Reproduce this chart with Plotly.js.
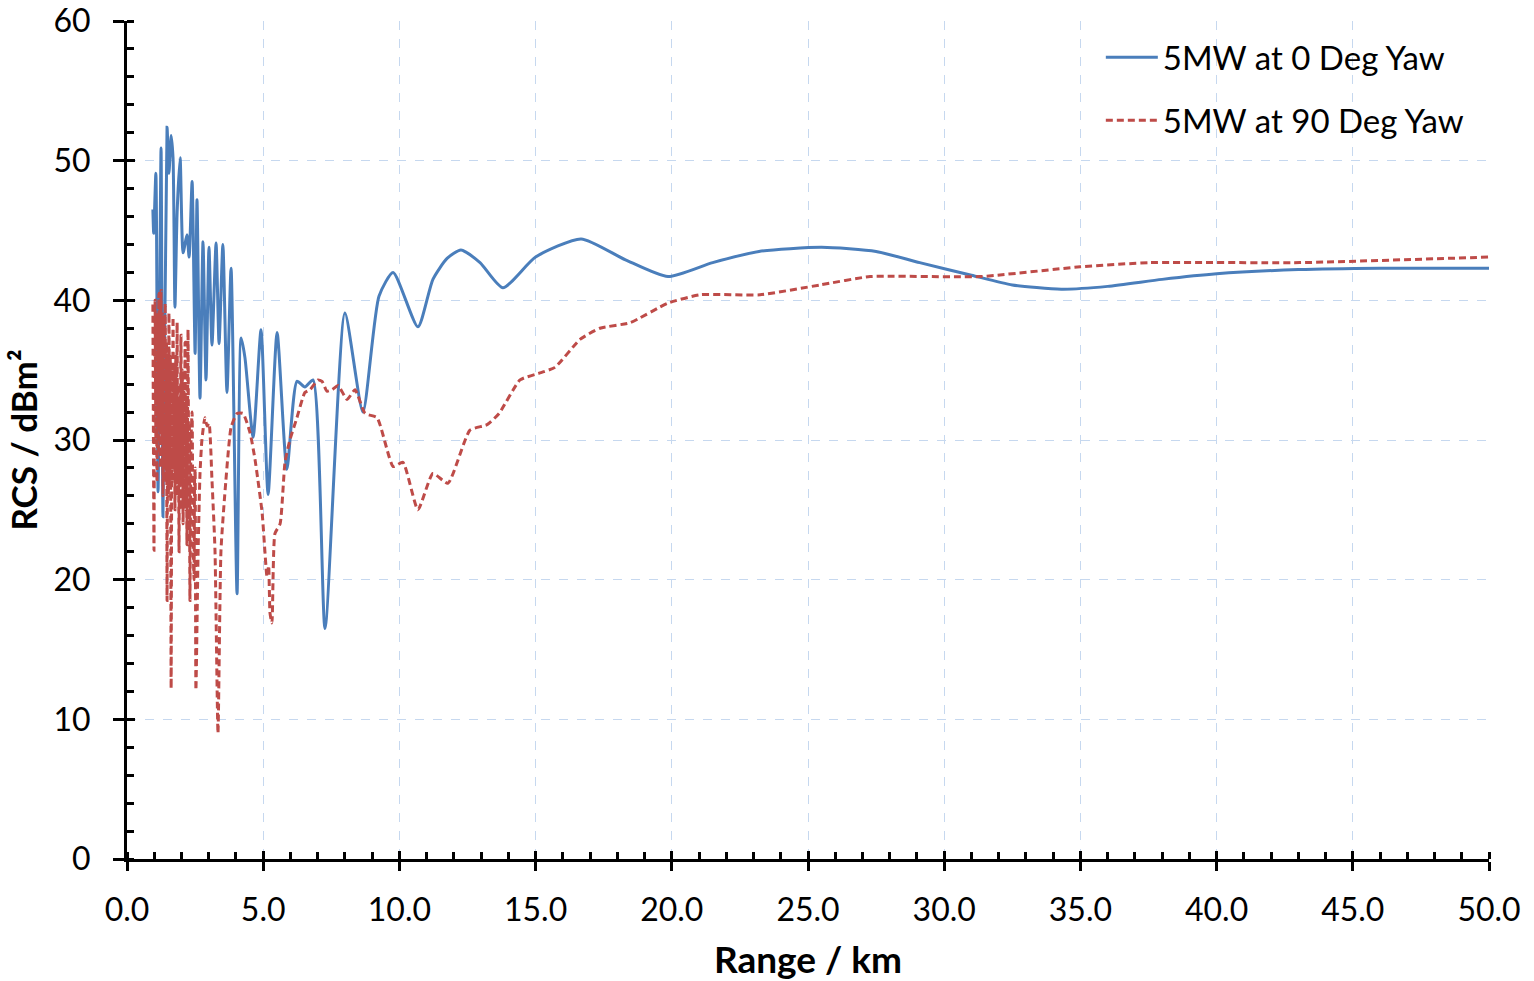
<!DOCTYPE html>
<html>
<head>
<meta charset="utf-8">
<script src="https://cdn.plot.ly/plotly-3.0.1.min.js"></script>
<style>html,body{margin:0;padding:0;background:#fff;}#chart{width:1534px;height:981px;}</style>
</head>
<body>
<div id="chart"></div>
<script>
// Range (km) and RCS (dBm²) for 5MW turbine at 0 deg yaw
const rangeYaw0 = [0.95,0.98,1.06,1.14,1.25,1.32,1.47,1.54,1.62,1.69,1.76,1.84,1.95,2.06,2.20,2.28,2.39,2.50,2.57,2.68,2.79,2.90,3.01,3.12,3.27,3.38,3.52,3.67,3.82,4.04,4.19,4.33,4.63,4.92,5.18,5.51,5.87,6.24,6.53,6.83,7.27,8.00,8.66,9.25,9.77,10.68,11.23,11.75,12.26,12.96,13.80,15.00,16.67,18.30,19.86,21.50,23.20,25.50,27.50,29.10,31.00,32.50,34.30,36.00,38.00,40.00,43.00,46.00,50.00];
const rcsYaw0   = [46.5,44.8,49.1,26.3,50.9,24.5,52.4,49.1,51.8,50.2,39.5,46.3,50.2,43.4,44.7,43.1,48.5,36.2,47.2,33.0,44.2,34.3,43.8,36.8,44.1,36.9,44.0,33.4,42.3,19.0,37.3,35.9,30.2,37.9,26.1,37.7,27.9,34.2,33.8,34.3,16.5,39.1,32.0,40.3,42.0,38.1,41.5,43.0,43.6,42.7,40.9,43.1,44.4,42.9,41.7,42.7,43.5,43.8,43.5,42.7,41.8,41.1,40.8,41.0,41.5,41.9,42.2,42.3,42.3];

// Range (km) and RCS (dBm²) for 5MW turbine at 90 deg yaw
const rangeYaw90 = [0.95,0.97,0.99,1.01,1.03,1.06,1.08,1.10,1.13,1.15,1.17,1.19,1.21,1.23,1.25,1.28,1.30,1.32,1.35,1.37,1.40,1.43,1.45,1.47,1.50,1.52,1.54,1.57,1.59,1.62,1.65,1.67,1.69,1.72,1.74,1.76,1.79,1.81,1.84,1.86,1.88,1.91,1.93,1.95,1.98,2.01,2.03,2.06,2.09,2.11,2.13,2.16,2.18,2.20,2.24,2.27,2.29,2.31,2.35,2.39,2.42,2.46,2.48,2.50,2.53,2.61,2.68,2.75,2.86,2.94,3.01,3.12,3.23,3.34,3.45,3.63,3.82,4.04,4.26,4.52,4.70,4.96,5.14,5.20,5.25,5.32,5.43,5.62,5.80,5.98,6.24,6.53,6.72,7.01,7.16,7.34,7.53,7.75,8.08,8.37,8.74,9.18,9.77,10.13,10.68,11.23,11.78,12.59,13.22,13.66,14.43,15.16,15.71,16.63,17.36,18.47,19.86,21.04,23.24,25.44,27.28,31.31,34.99,37.56,43.06,50.00];
const rcsYaw90   = [39.7,30.0,22.1,35.0,40.0,30.0,38.0,27.0,39.0,29.0,40.5,31.0,39.5,28.0,40.7,30.0,39.0,26.0,38.5,28.0,39.8,27.0,37.0,18.5,36.0,26.0,39.1,27.0,36.0,12.2,35.0,27.0,38.8,28.0,35.0,25.0,36.0,27.0,38.4,26.0,34.0,22.0,33.0,27.0,37.5,25.0,35.0,24.0,34.0,26.0,37.0,25.0,33.0,22.5,37.9,24.0,31.0,18.5,30.0,32.0,23.0,20.0,27.0,28.0,12.1,22.0,27.6,30.0,31.6,31.0,31.2,27.1,22.1,9.0,22.1,27.1,30.9,31.9,31.9,30.5,28.6,24.8,20.2,21.0,17.6,16.9,23.3,24.0,28.4,30.0,31.6,33.4,33.6,34.3,34.2,33.5,33.6,33.9,32.9,33.6,31.9,31.6,28.1,28.4,25.0,27.6,26.9,30.7,31.1,31.9,34.3,34.8,35.2,37.2,38.0,38.4,39.8,40.4,40.4,41.1,41.7,41.7,42.4,42.7,42.7,43.1];

const seriesNames = ['5MW at 0 Deg Yaw', '5MW at 90 Deg Yaw'];
const xTitle = 'Range / km';
const yTitle = 'RCS / dBm²';

const FONT = 'Lato, "Open Sans", sans-serif';
const gridColor = '#c6d8ef';

const traces = [
  {x: rangeYaw0, y: rcsYaw0, name: seriesNames[0], type: 'scatter', mode: 'lines',
   line: {color: '#4a7ebb', width: 3, shape: 'spline', smoothing: 0.6},
   xaxis: 'x', yaxis: 'y', legendgroup: 'a'},
  {x: rangeYaw90, y: rcsYaw90, name: seriesNames[1], type: 'scatter', mode: 'lines',
   line: {color: '#be4b48', width: 3, dash: '7px,4px', shape: 'spline', smoothing: 0.5},
   xaxis: 'x2', yaxis: 'y2', legendgroup: 'b'}
];

const layout = {
  width: 1534, height: 981,
  margin: {l: 127, r: 45, t: 21, b: 122},
  paper_bgcolor: '#ffffff', plot_bgcolor: '#ffffff',
  font: {family: FONT, color: '#000000', size: 32},
  showlegend: true,
  legend: {x: 0.715, y: 0.99, xanchor: 'left', yanchor: 'top', bgcolor: 'rgba(0,0,0,0)',
           font: {family: FONT, size: 33, color: '#000'}, traceorder: 'grouped', tracegroupgap: 17, itemwidth: 52},
  xaxis: {
    range: [0, 50], dtick: 5, tick0: 0, tickformat: '.1f',
    showline: true, linecolor: '#000', linewidth: 3, zeroline: false,
    ticks: 'outside', ticklen: 9, tickwidth: 3, tickcolor: '#000',
    showgrid: true, gridcolor: gridColor, gridwidth: 1, griddash: 'dash',
    minor: {dtick: 1, ticks: 'inside', ticklen: 7, tickwidth: 3, tickcolor: '#000', showgrid: false},
    tickfont: {family: FONT, size: 32, color: '#000'}, ticklabelstandoff: 12,
    title: {text: xTitle, font: {family: FONT, size: 37, color: '#000', weight: 'bold'}, standoff: 22}
  },
  yaxis: {
    range: [0, 60], dtick: 10, tick0: 0,
    showline: true, linecolor: '#000', linewidth: 3, zeroline: false,
    ticks: 'outside', ticklen: 11, tickwidth: 3, tickcolor: '#000',
    showgrid: true, gridcolor: gridColor, gridwidth: 1, griddash: 'dash',
    minor: {dtick: 2, ticks: 'inside', ticklen: 7, tickwidth: 3, tickcolor: '#000', showgrid: false},
    tickfont: {family: FONT, size: 32, color: '#000'}, ticklabelstandoff: 16,
    title: {text: yTitle, font: {family: FONT, size: 35, color: '#000', weight: 'bold'}, standoff: 6}
  },
  xaxis2: {
    overlaying: 'x', matches: 'x', anchor: 'y2', range: [0, 50], dtick: 5, tick0: 0,
    showline: false, zeroline: false, showgrid: false, showticklabels: false,
    ticks: 'inside', ticklen: 8, tickwidth: 3, tickcolor: '#000'
  },
  yaxis2: {
    overlaying: 'y', matches: 'y', anchor: 'x2', side: 'left', range: [0, 60], dtick: 10, tick0: 0,
    showline: false, zeroline: false, showgrid: false, showticklabels: false,
    ticks: 'inside', ticklen: 8, tickwidth: 3, tickcolor: '#000'
  }
};

Plotly.newPlot('chart', traces, layout, {staticPlot: true, displayModeBar: false});
</script>
</body>
</html>
